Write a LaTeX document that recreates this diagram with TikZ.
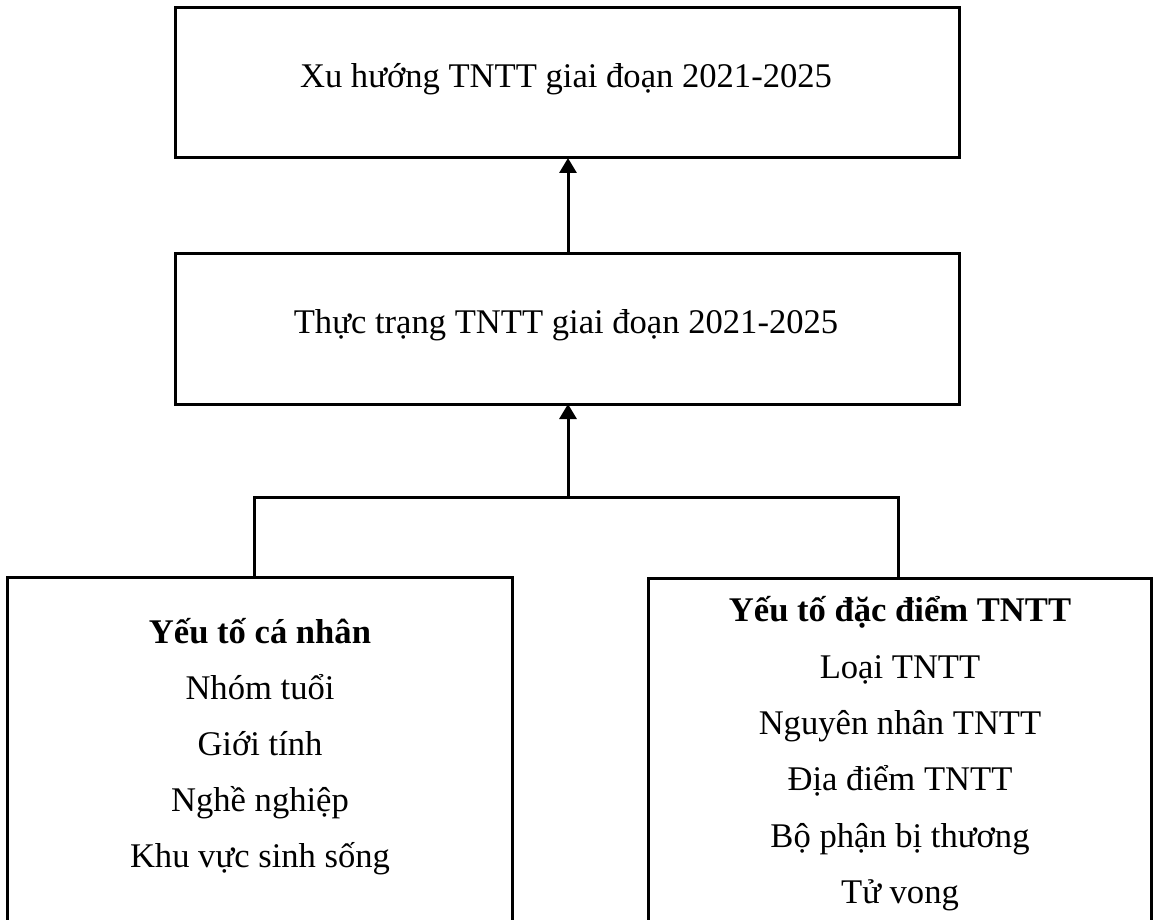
\documentclass[tikz,border=0pt]{standalone}
\usepackage{fontspec}
\setmainfont{Liberation Serif}
\usetikzlibrary{arrows.meta}
\begin{document}
\begin{tikzpicture}[x=1pt,y=-1pt,
  box/.style={draw=black,line width=3pt,rectangle,inner sep=0pt,outer sep=0pt},
  lbl/.style={anchor=base,inner sep=0pt,font=\fontsize{34.6}{40}\selectfont},
  hdr/.style={lbl,font=\fontsize{34.6}{40}\selectfont\bfseries},
  conn/.style={line width=3pt,black},
  arr/.style={conn,-{Triangle[length=15pt,width=17pt]}}]
\useasboundingbox (0,0) rectangle (1153,920);
\clip (0,0) rectangle (1153,920);
\fill[white] (0,0) rectangle (1153,920);
% boxes
\node[box,minimum width=784pt,minimum height=150pt] (top) at (567,83) {};
\node[box,minimum width=784pt,minimum height=151pt] (mid) at (567,328.5) {};
\node[box,minimum width=505pt,minimum height=400pt] (lb) at (259.5,777) {};
\node[box,minimum width=503pt,minimum height=400pt] (rb) at (899.5,778) {};
% texts
\node[lbl] (t1) at (566,88) {Xu hướng TNTT giai đoạn 2021-2025};
\node[lbl] (t2) at (566,333) {Thực trạng TNTT giai đoạn 2021-2025};
\node[hdr] (l0) at (260,643) {Yếu tố cá nhân};
\node[lbl] (l1) at (260,699) {Nhóm tuổi};
\node[lbl] (l2) at (260,755) {Giới tính};
\node[lbl] (l3) at (260,811) {Nghề nghiệp};
\node[lbl] (l4) at (260,867) {Khu vực sinh sống};
\node[hdr] (r0) at (900,621) {Yếu tố đặc điểm TNTT};
\node[lbl] (r1) at (900,678) {Loại TNTT};
\node[lbl] (r2) at (900,734) {Nguyên nhân TNTT};
\node[lbl] (r3) at (900,790) {Địa điểm TNTT};
\node[lbl] (r4) at (900,847) {Bộ phận bị thương};
\node[lbl] (r5) at (900,903) {Tử vong};
% connectors
\coordinate (j) at (568,497);
\coordinate (jl) at (254,497);
\coordinate (jr) at (898,497);
\draw[conn] (jl |- lb.north) -- (jl) -- (jr) -- (jr |- rb.north);
\draw[arr] (j) -- (j |- mid.south);
\draw[arr] (j |- mid.north) -- (j |- top.south);
\end{tikzpicture}
\end{document}
